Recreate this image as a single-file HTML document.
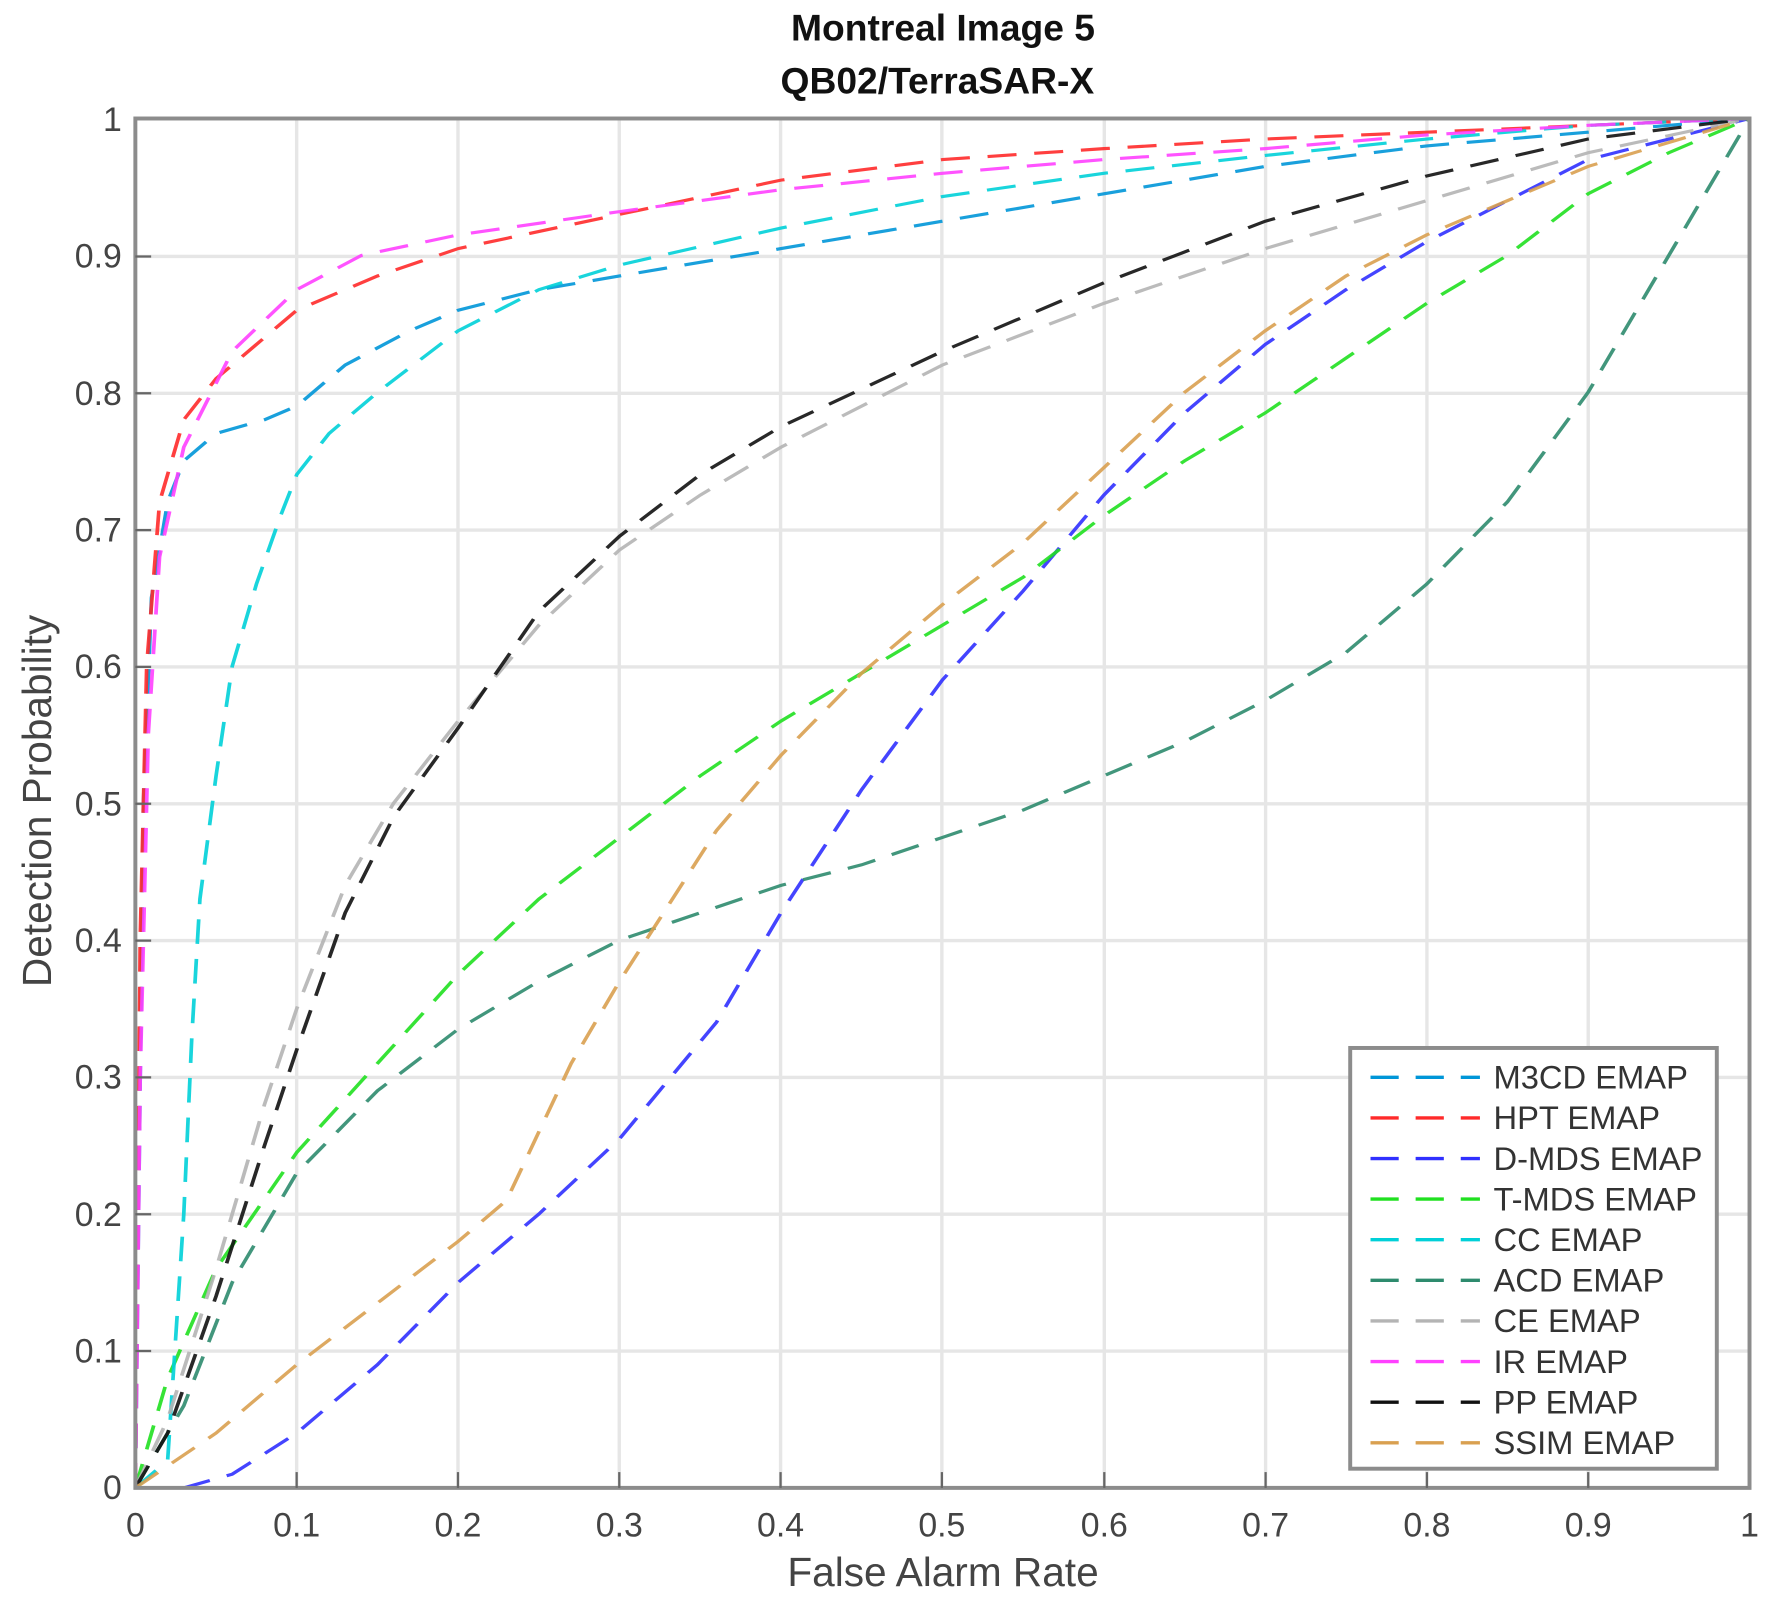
<!DOCTYPE html>
<html><head><meta charset="utf-8"><style>
html,body{margin:0;padding:0;background:#fff;}
svg{display:block;}
text{font-family:"Liberation Sans",sans-serif;}
</style></head><body>
<svg width="1767" height="1603" viewBox="0 0 1566.5 1421" xmlns="http://www.w3.org/2000/svg">
<rect width="1566.5" height="1421" fill="#fff"/>
<text x="836" y="36" font-size="33" font-weight="bold" text-anchor="middle" fill="#111">Montreal Image 5</text>
<text x="831" y="83" font-size="33" font-weight="bold" text-anchor="middle" fill="#111">QB02/TerraSAR-X</text>
<!-- grid -->
<g stroke="#e6e6e6" stroke-width="3">
<line x1="263" y1="105" x2="263" y2="1319"/><line x1="406" y1="105" x2="406" y2="1319"/><line x1="549" y1="105" x2="549" y2="1319"/><line x1="692" y1="105" x2="692" y2="1319"/><line x1="835" y1="105" x2="835" y2="1319"/><line x1="979" y1="105" x2="979" y2="1319"/><line x1="1122" y1="105" x2="1122" y2="1319"/><line x1="1265" y1="105" x2="1265" y2="1319"/><line x1="1408" y1="105" x2="1408" y2="1319"/>
<line x1="120" y1="1197.7" x2="1551" y2="1197.7"/><line x1="120" y1="1076.4" x2="1551" y2="1076.4"/><line x1="120" y1="955.1" x2="1551" y2="955.1"/><line x1="120" y1="833.8" x2="1551" y2="833.8"/><line x1="120" y1="712.5" x2="1551" y2="712.5"/><line x1="120" y1="591.2" x2="1551" y2="591.2"/><line x1="120" y1="469.9" x2="1551" y2="469.9"/><line x1="120" y1="348.6" x2="1551" y2="348.6"/><line x1="120" y1="227.3" x2="1551" y2="227.3"/>
</g>
<!-- curves -->
<g transform="translate(120,1319) scale(1.431,-1.214)" fill="none" stroke-width="2.3" stroke-dasharray="18 11" stroke-opacity="0.9">
<polyline stroke="#0096d8" points="0,0 5,500 10,650 20,720 30,750 50,770 80,780 100,790 130,820 170,845 200,860 250,875 300,885 400,905 500,925 600,945 700,965 800,980 900,990 1000,1000"/>
<polyline stroke="#ff2a2a" points="0,0 3,400 7,600 15,720 30,780 50,810 80,840 100,860 150,885 200,905 300,930 400,955 500,970 600,978 700,985 800,990 900,995 1000,1000"/>
<polyline stroke="#3030ff" points="0,0 30,0 60,10 100,40 150,90 200,150 250,200 300,255 360,340 400,420 450,510 500,590 550,655 600,725 650,785 700,835 750,875 800,910 850,940 900,970 1000,1000"/>
<polyline stroke="#20e020" points="0,0 20,80 50,160 100,245 150,310 200,375 250,430 300,475 350,520 400,560 450,595 500,630 550,665 600,710 650,750 700,785 750,825 800,865 850,900 900,945 950,975 1000,1000"/>
<polyline stroke="#00d0d8" points="0,0 20,20 30,200 35,330 40,430 50,520 60,600 75,660 90,710 100,740 120,770 150,800 200,845 250,875 300,893 400,920 500,943 600,960 700,973 800,985 900,995 1000,1000"/>
<polyline stroke="#2e8b6e" points="0,0 30,60 60,150 100,230 150,290 200,335 250,370 300,400 350,420 400,440 450,455 500,475 550,495 600,520 650,545 700,575 750,610 800,660 850,720 900,800 950,900 1000,1000"/>
<polyline stroke="#b4b4b4" points="0,0 20,50 50,160 80,280 100,350 130,440 160,500 200,560 250,630 300,685 350,725 400,760 500,820 600,865 700,905 800,940 900,975 1000,1000"/>
<polyline stroke="#ff40ff" points="0,0 3,300 8,550 15,680 30,760 60,830 100,875 140,900 200,915 300,932 400,948 500,960 600,970 700,978 800,988 900,995 1000,1000"/>
<polyline stroke="#111" points="0,0 20,40 50,140 80,250 100,320 130,420 160,490 200,555 250,640 300,695 350,740 400,775 500,830 600,880 700,925 800,958 900,985 1000,1000"/>
<polyline stroke="#d9a050" points="0,0 50,40 100,90 150,135 200,180 230,210 250,260 270,310 300,370 330,425 360,480 400,535 450,595 500,645 550,690 600,745 650,800 700,845 750,885 800,915 850,940 900,965 1000,1000"/>
</g>
<!-- axes box -->
<rect x="120" y="105" width="1431" height="1214" fill="none" stroke="#8c8c8c" stroke-width="3.5"/>
<g stroke="#666" stroke-width="2">
<line x1="263" y1="1319" x2="263" y2="1305"/><line x1="406" y1="1319" x2="406" y2="1305"/><line x1="549" y1="1319" x2="549" y2="1305"/><line x1="692" y1="1319" x2="692" y2="1305"/><line x1="835" y1="1319" x2="835" y2="1305"/><line x1="979" y1="1319" x2="979" y2="1305"/><line x1="1122" y1="1319" x2="1122" y2="1305"/><line x1="1265" y1="1319" x2="1265" y2="1305"/><line x1="1408" y1="1319" x2="1408" y2="1305"/>
<line x1="120" y1="1197.7" x2="134" y2="1197.7"/><line x1="120" y1="1076.4" x2="134" y2="1076.4"/><line x1="120" y1="955.1" x2="134" y2="955.1"/><line x1="120" y1="833.8" x2="134" y2="833.8"/><line x1="120" y1="712.5" x2="134" y2="712.5"/><line x1="120" y1="591.2" x2="134" y2="591.2"/><line x1="120" y1="469.9" x2="134" y2="469.9"/><line x1="120" y1="348.6" x2="134" y2="348.6"/><line x1="120" y1="227.3" x2="134" y2="227.3"/>
</g>
<!-- tick labels -->
<g font-size="30" fill="#444" text-anchor="middle">
<text x="120" y="1362">0</text><text x="263" y="1362">0.1</text><text x="406" y="1362">0.2</text><text x="549" y="1362">0.3</text><text x="692" y="1362">0.4</text><text x="835" y="1362">0.5</text><text x="979" y="1362">0.6</text><text x="1122" y="1362">0.7</text><text x="1265" y="1362">0.8</text><text x="1408" y="1362">0.9</text><text x="1551" y="1362">1</text>
</g>
<g font-size="30" fill="#444" text-anchor="end">
<text x="108" y="1329">0</text><text x="108" y="1208">0.1</text><text x="108" y="1087">0.2</text><text x="108" y="965">0.3</text><text x="108" y="844">0.4</text><text x="108" y="723">0.5</text><text x="108" y="601">0.6</text><text x="108" y="480">0.7</text><text x="108" y="359">0.8</text><text x="108" y="237">0.9</text><text x="108" y="116">1</text>
</g>
<text x="836" y="1406" font-size="36" fill="#444" text-anchor="middle">False Alarm Rate</text>
<text transform="translate(45,710) rotate(-90)" font-size="36" fill="#444" text-anchor="middle">Detection Probability</text>
<!-- legend -->
<rect x="1197" y="929" width="325" height="373" fill="#fff" stroke="#8c8c8c" stroke-width="3.5"/>
<g stroke-width="3" stroke-dasharray="25 15">
<line x1="1215" y1="955" x2="1312" y2="955" stroke="#0096d8"/>
<line x1="1215" y1="991" x2="1312" y2="991" stroke="#ff2a2a"/>
<line x1="1215" y1="1027" x2="1312" y2="1027" stroke="#3030ff"/>
<line x1="1215" y1="1063" x2="1312" y2="1063" stroke="#20e020"/>
<line x1="1215" y1="1099" x2="1312" y2="1099" stroke="#00d0d8"/>
<line x1="1215" y1="1135" x2="1312" y2="1135" stroke="#2e8b6e"/>
<line x1="1215" y1="1171" x2="1312" y2="1171" stroke="#b4b4b4"/>
<line x1="1215" y1="1207" x2="1312" y2="1207" stroke="#ff40ff"/>
<line x1="1215" y1="1243" x2="1312" y2="1243" stroke="#111"/>
<line x1="1215" y1="1279" x2="1312" y2="1279" stroke="#d9a050"/>
</g>
<g font-size="29" fill="#333">
<text x="1324" y="965">M3CD EMAP</text>
<text x="1324" y="1001">HPT EMAP</text>
<text x="1324" y="1037">D-MDS EMAP</text>
<text x="1324" y="1073">T-MDS EMAP</text>
<text x="1324" y="1109">CC EMAP</text>
<text x="1324" y="1145">ACD EMAP</text>
<text x="1324" y="1181">CE EMAP</text>
<text x="1324" y="1217">IR EMAP</text>
<text x="1324" y="1253">PP EMAP</text>
<text x="1324" y="1289">SSIM EMAP</text>
</g>
</svg>
</body></html>
